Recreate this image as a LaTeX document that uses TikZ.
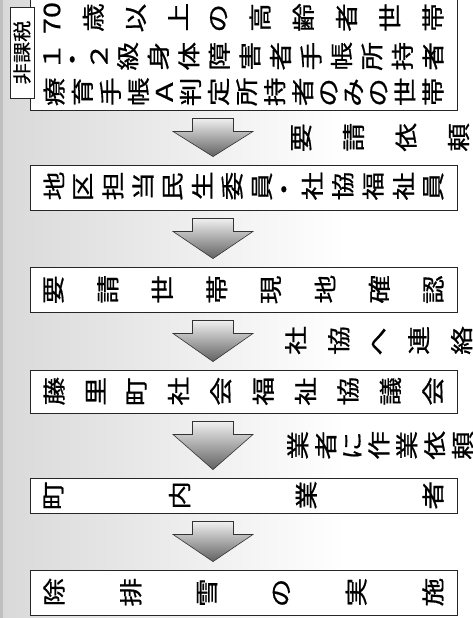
\documentclass[tikz,border=0pt]{standalone}
\usepackage{fontspec}
\usepackage{graphicx}
\usetikzlibrary{calc}
\newfontfamily\jpfont[FakeBold=0.6]{Noto Sans CJK JP}

\makeatletter
\newcommand\tateline[2]{\hbox to #1{\let\tate@sep\relax
  \@tfor\tate@c:=#2\do{\tate@sep\rotatebox[origin=c]{90}{\scalebox{1.25}[1]{\tate@c}}\let\tate@sep\hfill}}}
\makeatother
\newcommand\tatecomma{\rlap{\hspace{-0.62em}\raisebox{0.72em}{\rotatebox[origin=c]{90}{、}}}}
\newcommand\flowdown[2]{%
  \draw[flow arrow] let \p1=(#1.south), \p2=(#2.north) in
    (192.5pt,\y1-8pt) -- (233.5pt,\y1-8pt) -- (233.5pt,\y1-21pt) -- (253pt,\y1-21pt)
    -- (213pt,\y2+8pt) -- (173pt,\y1-21pt) -- (192.5pt,\y1-21pt) -- cycle;}

\begin{document}
\begin{tikzpicture}[x=1pt,y=-1pt,
    box/.style={draw=black!85,line width=0.9pt,fill=white,inner sep=0pt,minimum width=427pt,align=center,font=\jpfont\fontsize{23}{35.5}\selectfont},
    tag/.style={draw=black!85,line width=0.7pt,fill=white,rotate=90,inner sep=0pt,minimum width=91pt,minimum height=24pt,font=\jpfont\fontsize{18.5}{18.5}\selectfont},
    lbl/.style={anchor=west,inner sep=0pt,font=\jpfont\fontsize{23}{23}\selectfont},
    flow arrow/.style={draw=black!80,line width=0.6pt,top color=black!6,bottom color=black!62}]
    \useasboundingbox (0,0) rectangle (473,618);
    \shade[left color=black!15,right color=white] (0,0) rectangle (345,618);
    \fill[black!25] (0,0) rectangle (3,618);

    \node[box,minimum height=111pt] (1) at (243.5,54.5) {\tateline{400pt}{{70}歳以上の高齢者世帯}\\
        \tateline{400pt}{１・２級身体障害者手帳所持者}\tatecomma\\
        \tateline{400pt}{療育手帳Ａ判定所持者のみの世帯}};
    \node[box,minimum height=45pt] (2) at (243.5,187.5) {\tateline{400pt}{地区担当民生委員・社協福祉員}};
    \node[box,minimum height=45pt] (3) at (243.5,289.5) {\tateline{400pt}{要請世帯現地確認}};
    \node[box,minimum height=43pt] (4) at (243.5,391.5) {\tateline{400pt}{藤里町社会福祉協議会}};
    \node[box,minimum height=35pt] (5) at (243.5,495.5) {\tateline{400pt}{町内業者}};
    \node[box,minimum height=45pt] (6) at (243.5,592.5) {\tateline{400pt}{除排雪の実施}};
    \node[tag] (t) at (22,52.5) {\scalebox{1.15}[1]{非課税}};

    \flowdown{1}{2}
    \flowdown{2}{3}
    \flowdown{3}{4}
    \flowdown{4}{5}
    \flowdown{5}{6}

    \node[lbl] (a) at ($(1.south)!.5!(2.north)+(47.5,0)$) {\tateline{178pt}{要請依頼}};
    \node[lbl] (b) at ($(3.south)!.5!(4.north)+(41.5,0)$) {\tateline{187pt}{社協へ連絡}};
    \node[lbl] (c) at ($(4.south)!.5!(5.north)+(43.5,0)$) {\tateline{186pt}{業者に作業依頼}};
\end{tikzpicture}
\end{document}
